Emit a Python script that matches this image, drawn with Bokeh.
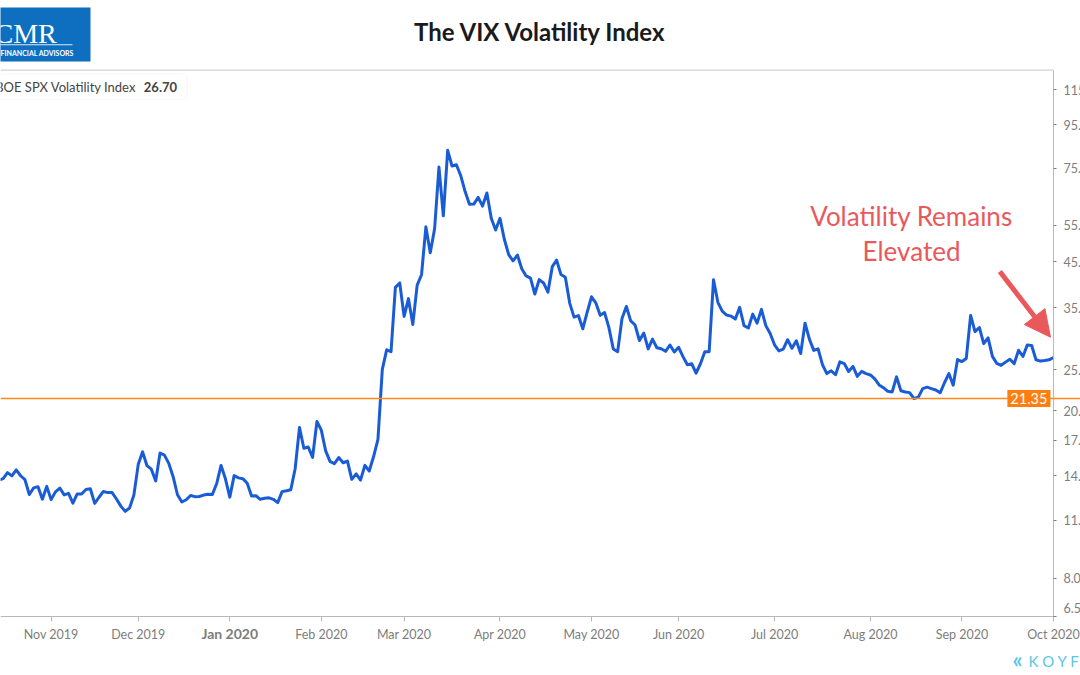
import pandas as pd
from bokeh.plotting import figure
from bokeh.models import (Range1d, FixedTicker, Span, Label, BoxAnnotation,
                          Arrow, NormalHead, ColumnDataSource)
from bokeh.embed import file_html
from bokeh.resources import INLINE

# ---------------- data ----------------
title_text = "The VIX Volatility Index"
series_name = "CBOE SPX Volatility Index"
last_value_text = "26.70"
annotation_lines = ["Volatility Remains", "Elevated"]
ref_level = 21.35
ref_level_text = "21.35"

market_holidays = ["2019-11-28", "2019-12-25", "2020-01-01", "2020-01-20", "2020-02-17",
                   "2020-04-10", "2020-05-25", "2020-07-03", "2020-09-07"]
dates = pd.bdate_range("2019-10-14", "2020-10-01", freq="C", holidays=market_holidays)

vix_oct19 = [14.57, 13.54, 13.68, 13.79, 14.25, 14.00, 14.46, 14.01, 13.71, 12.65, 13.11, 13.20, 12.33, 13.22]
vix_nov19 = [12.30, 12.83, 13.10, 12.62, 12.73, 12.07, 12.69, 12.68, 13.00, 13.05, 12.05, 12.46, 12.86, 12.78,
             12.78, 12.34, 11.87, 11.54, 11.75, 12.62]
vix_dec19 = [14.91, 15.96, 14.80, 14.52, 13.62, 15.86, 15.68, 14.99, 13.94, 12.63, 12.14, 12.29, 12.58, 12.50,
             12.51, 12.61, 12.67, 12.65, 13.43, 14.82, 13.78]
vix_jan20 = [12.47, 14.02, 13.85, 13.79, 13.45, 12.54, 12.56, 12.32, 12.39, 12.42, 12.32, 12.10, 12.85, 12.91,
             12.98, 14.56, 18.23, 16.28, 16.39, 15.49, 18.84]
vix_feb20 = [17.97, 16.05, 15.15, 14.96, 15.47, 15.04, 15.18, 13.74, 14.15, 13.68, 14.83, 14.38, 15.56, 17.08,
             25.03, 27.85, 27.56, 39.16, 40.11]
vix_mar20 = [33.42, 36.82, 31.99, 39.62, 41.94, 54.46, 47.30, 53.90, 75.47, 57.83, 82.69, 75.91, 76.45, 72.00,
             66.04, 61.59, 61.67, 63.95, 61.00, 65.54, 57.08, 53.54]
vix_apr20 = [57.06, 50.91, 46.80, 45.24, 46.70, 43.35, 41.67, 41.17, 37.76, 40.84, 40.11, 38.15, 43.83, 45.41,
             41.98, 41.38, 35.93, 33.29, 33.57, 31.23, 34.15]
vix_may20 = [37.19, 35.97, 33.61, 34.12, 31.44, 27.98, 27.57, 33.04, 35.28, 32.61, 31.89, 29.30, 30.53, 27.99,
             29.53, 28.16, 28.01, 27.62, 28.59, 27.51]
vix_jun20 = [28.23, 26.84, 25.66, 25.81, 24.52, 25.81, 27.57, 27.57, 40.79, 36.09, 34.40, 33.67, 33.47, 32.94,
             35.12, 31.77, 31.37, 33.84, 32.22, 34.73, 31.78, 30.43]
vix_jul20 = [28.62, 27.68, 27.94, 29.43, 28.08, 29.26, 27.29, 32.19, 29.52, 27.76, 28.00, 25.68, 24.46, 24.84,
             24.32, 26.08, 25.84, 24.74, 25.44, 24.10, 24.76, 24.46]
vix_aug20 = [24.28, 23.76, 22.99, 22.65, 22.21, 22.13, 24.03, 22.28, 22.13, 22.05, 21.35, 21.51, 22.54, 22.72,
             22.54, 22.37, 22.03, 23.27, 24.47, 22.96, 26.41]
vix_sep20 = [26.12, 26.57, 33.60, 30.75, 31.46, 28.81, 29.71, 26.87, 25.85, 25.59, 26.04, 26.46, 25.83, 27.78,
             26.86, 28.58, 28.51, 26.38, 26.19, 26.27, 26.37]
vix_oct20 = [26.70]

vix = (vix_oct19 + vix_nov19 + vix_dec19 + vix_jan20 + vix_feb20 + vix_mar20 + vix_apr20 +
       vix_may20 + vix_jun20 + vix_jul20 + vix_aug20 + vix_sep20 + vix_oct20)
assert len(vix) == len(dates)

tick_months = ["2019-11", "2019-12", "2020-01", "2020-02", "2020-03", "2020-04",
               "2020-05", "2020-06", "2020-07", "2020-08", "2020-09", "2020-10"]
tick_labels = ["Nov 2019", "Dec 2019", "Jan 2020", "Feb 2020", "Mar 2020", "Apr 2020",
               "May 2020", "Jun 2020", "Jul 2020", "Aug 2020", "Sep 2020", "Oct 2020"]
bold_tick = "Jan 2020"

y_ticks = [6.5, 8, 11, 14, 17, 20, 25, 35, 45, 55, 75, 95, 115]
y_tick_labels = ["6.50", "8.00", "11.00", "14.00", "17.00", "20.00", "25.00", "35.00",
                 "45.00", "55.00", "75.00", "95.00", "115.00"]

# ---------------- layout (view window of the chart) ----------------
x_view = (2.389, 250.21)      # trading-day index shown across the picture
y_view = (4.712, 187.24)      # VIX level shown down the picture (log)
chart_bottom, chart_top = 6.5, 128.1
last_i = len(vix) - 1

month_keys = list(dates.strftime("%Y-%m"))
tick_idx = [month_keys.index(m) for m in tick_months]
idx = list(range(len(vix)))
source = ColumnDataSource(dict(x=idx, y=vix, date=[d.strftime("%Y-%m-%d") for d in dates]))

BLUE = "#1a5cd6"
RED = "#e9595c"
ORANGE = "#ff8a1c"
GREY = "#7d7d7d"
AXIS = "#b8b8b8"
KOY = "#5bc6e4"

p = figure(width=1080, height=675, title=None,
           x_range=Range1d(*x_view), y_range=Range1d(*y_view),
           y_axis_type="log", y_axis_location="right",
           output_backend="svg", toolbar_location=None,
           min_border_left=0, min_border_right=0, min_border_top=0, min_border_bottom=0,
           background_fill_color="white", border_fill_color="white",
           outline_line_color=None)
p.xgrid.visible = False
p.ygrid.visible = False

xa = p.xaxis[0]
xa.fixed_location = chart_bottom
xa.bounds = (x_view[0], last_i)
xa.ticker = FixedTicker(ticks=tick_idx)
xa.major_label_overrides = {i: ("" if l == bold_tick else l) for i, l in zip(tick_idx, tick_labels)}
xa.axis_line_color = AXIS
xa.major_tick_line_color = AXIS
xa.major_tick_out = 5
xa.major_tick_in = 0
xa.minor_tick_line_color = None
xa.major_label_text_font = "Lato"
xa.major_label_text_font_size = "12.5px"
xa.major_label_text_color = GREY
xa.major_label_standoff = 5

ya = p.yaxis[0]
ya.fixed_location = last_i
ya.bounds = (chart_bottom, chart_top)
ya.ticker = FixedTicker(ticks=y_ticks)
ya.major_label_overrides = {t: ("" if t == y_ticks[0] else l) for t, l in zip(y_ticks, y_tick_labels)}
ya.axis_line_color = AXIS
ya.major_tick_line_color = GREY
ya.major_tick_out = 3
ya.major_tick_in = 0
ya.minor_tick_line_color = None
ya.major_label_text_font = "Lato"
ya.major_label_text_font_size = "12.5px"
ya.major_label_text_color = GREY
ya.major_label_standoff = 7

# bottom tick label sits a little higher, as in the reference
p.add_layout(Label(x=last_i, y=y_ticks[0], x_offset=10, y_offset=9, text=y_tick_labels[0],
                   text_align="left", text_baseline="middle", text_font="Lato",
                   text_font_size="12.5px", text_color=GREY))

# top border of the chart area
p.segment(x0=[x_view[0]], y0=[chart_top], x1=[last_i], y1=[chart_top], line_color="#c8c8c8", line_width=1)

# bold January tick label
jan_i = tick_idx[tick_labels.index(bold_tick)]
p.add_layout(Label(x=jan_i, y=41.6, y_units="screen", text=bold_tick, text_align="center",
                   text_baseline="middle", text_font="Lato", text_font_style="bold",
                   text_font_size="14px", text_color=GREY))

# reference level and series
p.add_layout(Span(location=ref_level, dimension="width", line_color=ORANGE, line_width=1.5))
p.line("x", "y", source=source, line_color=BLUE, line_width=3, line_join="round")
p.add_layout(Label(x=last_i, y=ref_level, x_offset=-3, text=ref_level_text,
                   text_align="right", text_baseline="middle", text_font="Lato",
                   text_font_size="14.5px", text_color="white",
                   background_fill_color="#ff7f0e", padding=3))

# title
p.add_layout(Label(x=540, y=644.5, x_units="screen", y_units="screen", text=title_text,
                   text_align="center", text_baseline="middle", text_font="Lato",
                   text_font_style="bold", text_font_size="24px", text_color="#1a1a1a"))

# CMR logo
p.add_layout(BoxAnnotation(left=-2, right=90, top=668, bottom=614,
                           left_units="screen", right_units="screen",
                           top_units="screen", bottom_units="screen",
                           fill_color="#0e6fc0", fill_alpha=1.0, line_color=None))
p.add_layout(BoxAnnotation(left=-2, right=72, top=631.2, bottom=630.2,
                           left_units="screen", right_units="screen",
                           top_units="screen", bottom_units="screen",
                           fill_color="white", fill_alpha=0.85, line_color=None))
p.add_layout(Label(x=-6, y=642.5, x_units="screen", y_units="screen", text="CMR",
                   text_align="left", text_baseline="middle", text_font="Liberation Serif",
                   text_font_size="28px", text_color="white"))
p.add_layout(Label(x=0, y=622.5, x_units="screen", y_units="screen", text="FINANCIAL ADVISORS",
                   text_align="left", text_baseline="middle", text_font="Lato",
                   text_font_style="bold", text_font_size="7px", text_color="white"))

# series legend box
p.add_layout(BoxAnnotation(left=-10, right=186.7, top=601.7, bottom=576,
                           left_units="screen", right_units="screen",
                           top_units="screen", bottom_units="screen",
                           fill_color="white", fill_alpha=1.0, line_color="#e3e3e3",
                           line_width=1, border_radius=5))
p.add_layout(Label(x=-14, y=588.5, x_units="screen", y_units="screen", text=series_name,
                   text_align="left", text_baseline="middle", text_font="Lato",
                   text_font_size="13px", text_color="#444444"))
p.add_layout(Label(x=143.3, y=588.5, x_units="screen", y_units="screen", text=last_value_text,
                   text_align="left", text_baseline="middle", text_font="Lato",
                   text_font_style="bold", text_font_size="13px", text_color="#444444"))

# annotation
for line_text, yy in zip(annotation_lines, [459.5, 425]):
    p.add_layout(Label(x=911, y=yy, x_units="screen", y_units="screen", text=line_text,
                       text_align="center", text_baseline="middle", text_font="Lato",
                       text_font_size="26px", text_color=RED))
p.add_layout(Arrow(end=NormalHead(size=26, fill_color=RED, line_color=RED),
                   x_start=999.3, y_start=404, x_end=1050, y_end=338.3,
                   start_units="screen", end_units="screen",
                   line_color=RED, line_width=5))

# Koyfin mark
p.add_layout(Label(x=1012, y=16, x_units="screen", y_units="screen", text="«",
                   text_align="left", text_baseline="middle", text_font="Lato",
                   text_font_style="bold", text_font_size="22px", text_color=KOY))
p.add_layout(Label(x=1028, y=15, x_units="screen", y_units="screen", text="K O Y F I N",
                   text_align="left", text_baseline="middle", text_font="Lato",
                   text_font_size="15px", text_color=KOY))

open("out.html", "w").write(file_html(p, INLINE))
